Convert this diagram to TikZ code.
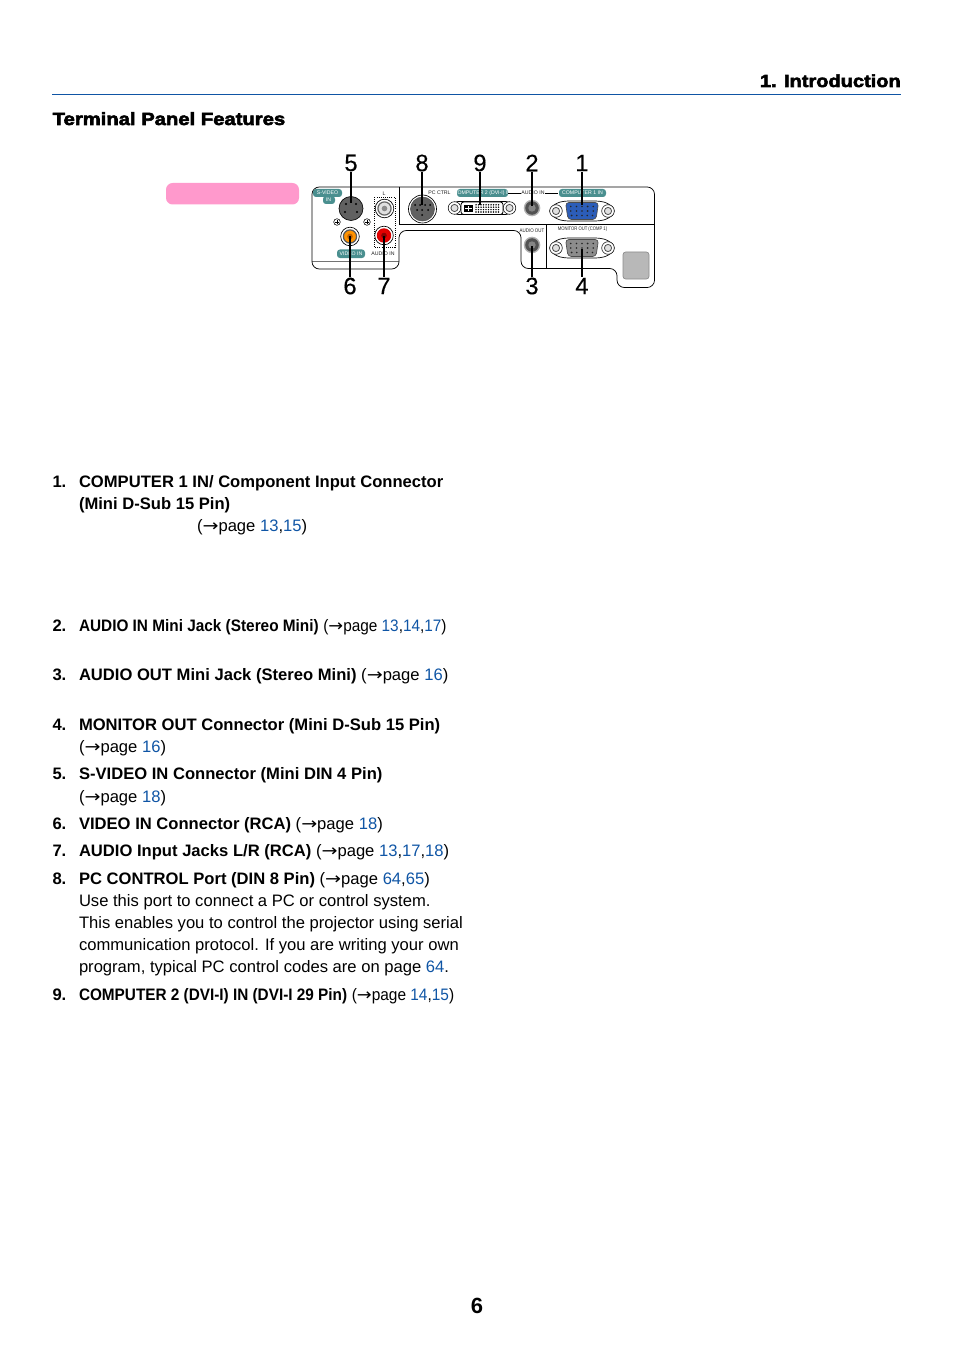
\documentclass[tikz,border=0pt]{standalone}
\usepackage{fontspec}
\setmainfont{Liberation Sans}
\newfontfamily\heavyfont[FakeBold=3.2,FakeStretch=1.15]{Liberation Sans Bold}
\newfontfamily\numfont[FakeBold=0.35]{Liberation Sans}
\newfontfamily\symfont{DejaVu Sans}
\usetikzlibrary{calc}
\definecolor{linkblue}{HTML}{0F55A5}
\definecolor{tealbg}{HTML}{4A8F8F}
\definecolor{pinkbar}{HTML}{FF99CC}
\definecolor{vgablue}{HTML}{2C5DB8}
\newcommand{\lnk}[1]{\textcolor{linkblue}{#1}}
\newcommand{\arr}{(\scalebox{1.15}[1]{{\symfont→}}page }
\newcommand{\squeeze}[2]{\scalebox{#1}[1]{#2}}
\tikzset{
  x=0.75pt,y=-0.75pt,
  txt/.style={inner sep=0,outer sep=0,anchor=base west,font=\fontsize{12.45pt}{14pt}\selectfont},
  num/.style={inner sep=0,outer sep=0,font=\fontsize{17.8pt}{18pt}\numfont},
  leader/.style={line width=1.1pt,black},
  tealtag/.style={fill=tealbg,rounded corners=2.2pt,draw=none},
  tagtext/.style={inner sep=0,outer sep=0,text=white,font=\fontsize{3.9pt}{4pt}\selectfont},
  tiny/.style={inner sep=0,outer sep=0,text=black!88,font=\fontsize{3.9pt}{4pt}\selectfont},
  pin/.style={fill=black!85,draw=none},
  screwo/.style={draw=black,line width=0.4pt,fill=white},
  screwi/.style={draw=black!70,line width=0.6pt,fill=black!12},
}
\newcommand{\screw}[2]{%
  \draw[screwo] (#1,#2) circle[radius=6.3];
  \draw[screwi] (#1,#2) circle[radius=3.6];}
\newcommand{\vga}[3]{%
  \draw[line width=0.5pt,rounded corners=3.2pt,fill=white]
    ({#1-34},#2) -- ({#1-27},{#2-7.5}) -- ({#1-18},{#2-10}) -- ({#1+18},{#2-10}) -- ({#1+27},{#2-7.5}) --
    ({#1+34},#2) -- ({#1+27},{#2+7.5}) -- ({#1+18},{#2+10}) -- ({#1-18},{#2+10}) -- ({#1-27},{#2+7.5}) -- cycle;
  \screw{#1-26}{#2}\screw{#1+26}{#2}
  \draw[line width=0.5pt,rounded corners=2.5pt,fill=#3,draw=black!70]
    ({#1-16.5},{#2-8.5}) -- ({#1+16.5},{#2-8.5}) -- ({#1+14},{#2+8.5}) -- ({#1-14},{#2+8.5}) -- cycle;
  \foreach \k in {-2,...,2}{
    \fill[pin] ({#1+\k*5.6},{#2-4.5}) circle[radius=0.9];
    \fill[pin] ({#1+\k*5.6},{#2}) circle[radius=0.9];
    \fill[pin] ({#1+\k*5.2},{#2+4.5}) circle[radius=0.9];}}
\newcommand{\rca}[5]{%
  \draw[line width=0.5pt,fill=white] (#1,#2) circle[radius=9.3];
  \draw[line width=0.9pt,draw=#3,fill=#4] (#1,#2) circle[radius=6.6];
  \fill[#5] (#1,#2) circle[radius=2.8];}
\newcommand{\mini}[2]{%
  \fill[black!30] (#1,#2) circle[radius=8.3];
  \fill[black!68] (#1,#2) circle[radius=6.8];
  \fill[black!48] (#1,#2) circle[radius=3.7];}
\newcommand{\li}[3]{\node[txt] (#1) at (79,#2) {#3};}
\newcommand{\lnum}[3]{\node[txt,font=\fontsize{12.45pt}{14pt}\selectfont\bfseries] (#1) at (52.5,#2) {#3};}
\begin{document}
\begin{tikzpicture}
\useasboundingbox (0,0) rectangle (954,1348);
% page head
\node[inner sep=0,anchor=base east,font=\fontsize{13.05pt}{14pt}\heavyfont] (chap) at (901,87) {1. Introduction};
\draw[linkblue,line width=0.75pt] (52,94.5) -- (901,94.5);
\node[inner sep=0,anchor=base west,font=\fontsize{13.2pt}{14pt}\heavyfont] (title) at (52.5,125) {Terminal Panel Features};
\fill[pinkbar,rounded corners=5pt] (166,183) rectangle (299,204.5);
% panel outline
\draw[line width=0.5pt,black!55] (312,261) -- (399,261);
\draw[line width=0.55pt,rounded corners=5.5pt]
  (450,187) -- (654.5,187) -- (654.5,287.5) -- (617,287.5) -- (617,268.5) -- (521,268.5) -- (521,230.5) -- (399,230.5) -- (399,269) -- (312,269) -- (312,187) -- cycle;
\draw[line width=0.55pt] (399,187) -- (399,224.5) -- (654.5,224.5);
\draw[line width=0.55pt] (546,224.5) -- (546,268.5);
% tags
\fill[tealtag] (313,189) rectangle (342,197);
\fill[tealtag] (323,196) rectangle (335,204);
\node[tagtext] (tsv) at (327.5,193) {S-VIDEO};
\node[tagtext] (tin) at (328.5,200) {IN};
\fill[tealtag] (337,249.5) rectangle (365,258);
\node[tagtext] (tvid) at (351,254) {VIDEO IN};
\node[tiny] (taud) at (383,253.5) {AUDIO IN};
\node[tiny] (tl) at (384,194) {L};
\node[tiny] (tpc) at (439.5,192.8) {PC CTRL};
\fill[tealtag] (457,189) rectangle (508,197);
\node[tagtext] (tc2) at (482.5,193) {COMPUTER 2 (DVI-I) IN};
\draw[line width=0.45pt] (508,193) -- (521,193);
\node[tiny] (tai) at (533,193) {AUDIO IN};
\draw[line width=0.45pt] (545,193) -- (558,193);
\fill[tealtag] (559,189) rectangle (606,197);
\node[tagtext] (tc1) at (582.5,193) {COMPUTER 1 IN};
\node[tiny] (tao) at (532,231) {\scalebox{0.85}[1]{AUDIO OUT}};
\node[tiny] (tmo) at (582.5,229) {\scalebox{0.8}[1]{MONITOR OUT (COMP 1)}};
% S-video
\draw[line width=0.5pt,fill=black!62] (351,208.5) circle[radius=12];
\foreach \a/\b in {346/204,356/204,345/212,357/212}{\fill[black] (\a,\b) circle[radius=1.2];}
\foreach \a in {337,367}{
  \draw[line width=0.4pt] (\a,222) circle[radius=3.3];
  \draw[line width=0.4pt] (\a-2,222) -- (\a+2,222) (\a,220) -- (\a,224);}
\rca{350}{236.5}{black!65}{orange!85!yellow}{orange!75!black}
\rca{384.5}{208.5}{black!60}{black!12}{black!45}
\rca{384}{235.5}{red!85!black}{red!90!black}{red!55!black}
\draw[line width=0.6pt,densely dotted] (374,197) rectangle (395,247);
% PC control
\draw[line width=0.5pt,fill=white] (422.5,209) circle[radius=14];
\draw[fill=black!62,draw=black!70,line width=0.4pt] (422.5,209) circle[radius=12];
\foreach \a/\b in {415/205,420/205,425/205,430/205,417/210,422/210,428/210,422/215}{\fill[black] (\a,\b) circle[radius=1];}
% DVI
\draw[line width=0.5pt,rounded corners=3pt,fill=white] (448,208) -- (454,201.5) -- (510,201.5) -- (516,208) -- (510,214.5) -- (454,214.5) -- cycle;
\screw{454.5}{208}\screw{509.5}{208}
\draw[line width=0.6pt,rounded corners=2pt,fill=white] (461,202) -- (503,202) -- (503,214.5) -- (461,214.5) -- cycle;
\fill[black] (464,205) rectangle (473,212);
\fill[white] (465,208.1) rectangle (472,208.9);
\fill[white] (468.1,205.8) rectangle (468.9,211.2);
\foreach \a in {476,478.5,...,500}{\foreach \b in {204.8,207.2,209.6,212}{\fill[black] (\a,\b) circle[radius=0.8];}}
% minis
\mini{532}{208}
\mini{532}{245}
% D-subs
\vga{582}{211}{vgablue}
\vga{582}{248}{black!45}
% gray box
\draw[line width=0.5pt,draw=black!45,fill=black!28,rounded corners=2pt] (623,252) rectangle (649,279);
% numbers
\node[num] (n5) at (351,163) {5};
\node[num] (n8) at (422,163) {8};
\node[num] (n9) at (480,163) {9};
\node[num] (n2) at (532,163) {2};
\node[num] (n1) at (582,163) {1};
\node[num] (n6) at (350,286) {6};
\node[num] (n7) at (384,286) {7};
\node[num] (n3) at (532,286) {3};
\node[num] (n4) at (582,286) {4};
\coordinate (e5) at (351,203);
\coordinate (e8) at (422,205);
\coordinate (e9) at (480,205);
\coordinate (e2) at (532,206);
\coordinate (e1) at (582,205);
\coordinate (e6) at (350,236);
\coordinate (e7) at (384,236);
\coordinate (e3) at (532,246);
\coordinate (e4) at (582,249);
\foreach \k in {5,8,9,2,1}{\draw[leader] (n\k.south) ++(0,1) -- (e\k);}
\foreach \k in {6,7,3,4}{\draw[leader] (n\k.north) ++(0,-1) -- (e\k);}
% list
\lnum{a1}{487}{1.}
\li{b1}{487}{\textbf{COMPUTER 1 IN/ Component Input Connector}}
\node[txt] (b1b) at (79,509) {\textbf{(Mini D-Sub 15 Pin)}};
\node[txt] (b1c) at (197,531) {\arr\lnk{13},\lnk{15})};
\lnum{a2}{631}{2.}
\li{b2}{631}{\textbf{\squeeze{0.925}{AUDIO IN Mini Jack (Stereo Mini)}} \squeeze{0.925}{\arr\lnk{13},\lnk{14},\lnk{17})}}
\lnum{a3}{680}{3.}
\li{b3}{680}{\textbf{AUDIO OUT Mini Jack (Stereo Mini)} \arr\lnk{16})}
\lnum{a4}{730}{4.}
\li{b4}{730}{\textbf{MONITOR OUT Connector (Mini D-Sub 15 Pin)}}
\node[txt] (b4b) at (79,752) {\arr\lnk{16})};
\lnum{a5}{779}{5.}
\li{b5}{779}{\textbf{S-VIDEO IN Connector (Mini DIN 4 Pin)}}
\node[txt] (b5b) at (79,802) {\arr\lnk{18})};
\lnum{a6}{829}{6.}
\li{b6}{829}{\textbf{VIDEO IN Connector (RCA)} \arr\lnk{18})}
\lnum{a7}{856}{7.}
\li{b7}{856}{\textbf{AUDIO Input Jacks L/R (RCA)} \arr\lnk{13},\lnk{17},\lnk{18})}
\lnum{a8}{884}{8.}
\li{b8}{884}{\textbf{PC CONTROL Port (DIN 8 Pin)} \arr\lnk{64},\lnk{65})}
\node[txt] (b8b) at (79,906) {Use this port to connect a PC or control system.};
\node[txt] (b8c) at (79,928) {This enables you to control the projector using serial};
\node[txt] (b8d) at (79,950) {communication protocol. If you are writing your own};
\node[txt] (b8e) at (79,972) {program, typical PC control codes are on page \lnk{64}.};
\lnum{a9}{1000}{9.}
\li{b9}{1000}{\textbf{\squeeze{0.923}{COMPUTER 2 (DVI-I) IN (DVI-I 29 Pin)}} \squeeze{0.93}{\arr\lnk{14},\lnk{15})}}
\node[inner sep=0,anchor=base,font=\fontsize{16.5pt}{18pt}\selectfont\bfseries] (pg) at (477,1313) {6};
\end{tikzpicture}
\end{document}
